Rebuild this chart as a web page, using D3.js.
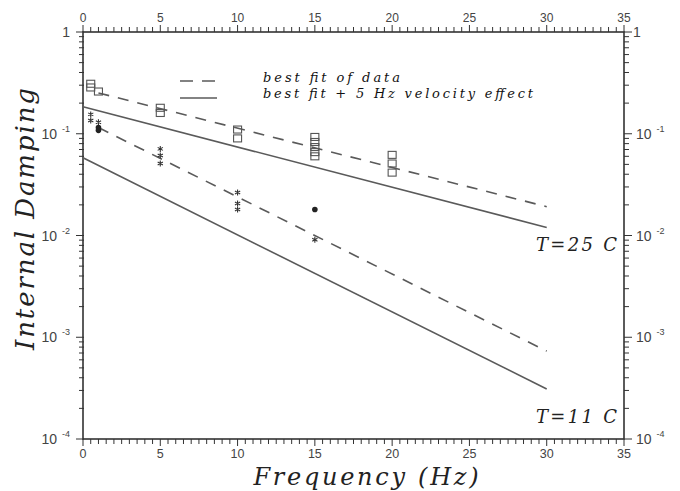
<!DOCTYPE html>
<html>
<head>
<meta charset="utf-8">
<script src="https://cdn.jsdelivr.net/npm/d3@7"></script>
<style>
  body { margin: 0; background: #fff; }
  svg { display: block; }
</style>
</head>
<body>
<svg id="chart" width="680" height="491"></svg>
<script>
// frequency (Hz), damping
const squares25 = [[0.5, 0.31], [0.5, 0.285], [1, 0.26], [5, 0.18], [5, 0.16], [10, 0.11], [10, 0.09],
  [15, 0.093], [15, 0.083], [15, 0.074], [15, 0.066], [15, 0.06], [20, 0.062], [20, 0.051], [20, 0.0415]]
const stars11 = [[0.5, 0.155], [0.5, 0.135], [1, 0.13], [5, 0.071], [5, 0.061], [5, 0.051],
  [10, 0.0264], [10, 0.0206], [10, 0.018], [15, 0.0091]]
const dots11 = [[1, 0.115], [1, 0.108], [15, 0.018]]

// fitted lines (endpoints)
const fit25 = [[1, 0.252], [30, 0.0192]]
const vel25 = [[0, 0.184], [30, 0.012]]
const fit11 = [[1, 0.115], [30, 0.00073]]
const vel11 = [[0, 0.058], [30, 0.00031]]

const xMajor = [0, 5, 10, 15, 20, 25, 30, 35]
const yDecades = [1, 0.1, 0.01, 0.001, 0.0001]
const yExp = ["", "-1", "-2", "-3", "-4"]

const legendItems = ["best fit of data", "best fit + 5 Hz velocity effect"]

const svg = d3.select("#chart")
const x = d3.scaleLinear().domain([0, 35]).range([83, 624])
const y = d3.scaleLog().domain([1e-4, 1]).range([439, 32])

const ink = "#333"
const serif = "'DejaVu Serif', 'Liberation Serif', serif"
const sans = "'Liberation Sans', 'DejaVu Sans', sans-serif"

// minor ticks
const xMinor = d3.range(0, 35.01, 0.5).filter(v => v % 5 !== 0)
const yMinor = []
yDecades.slice(1).forEach(d => { for (let k = 2; k <= 9; k++) yMinor.push(d * k) })

const ticks = svg.append("g").attr("stroke", ink).attr("stroke-width", 1)

// top & bottom
ticks.selectAll(".xt").data(xMinor).join("line")
  .attr("x1", d => x(d)).attr("x2", d => x(d)).attr("y1", 32).attr("y2", 27)
ticks.selectAll(".xb").data(xMinor).join("line")
  .attr("x1", d => x(d)).attr("x2", d => x(d)).attr("y1", 439).attr("y2", 444)
ticks.selectAll(".xtM").data(xMajor).join("line")
  .attr("x1", d => x(d)).attr("x2", d => x(d)).attr("y1", 32).attr("y2", 25)
ticks.selectAll(".xbM").data(xMajor).join("line")
  .attr("x1", d => x(d)).attr("x2", d => x(d)).attr("y1", 439).attr("y2", 446)

// left & right
ticks.selectAll(".yl").data(yMinor).join("line")
  .attr("x1", 79).attr("x2", 84).attr("y1", d => y(d)).attr("y2", d => y(d))
ticks.selectAll(".yr").data(yMinor).join("line")
  .attr("x1", 624).attr("x2", 629).attr("y1", d => y(d)).attr("y2", d => y(d))
ticks.selectAll(".ylM").data(yDecades).join("line")
  .attr("x1", 76).attr("x2", 84).attr("y1", d => y(d)).attr("y2", d => y(d))
ticks.selectAll(".yrM").data(yDecades).join("line")
  .attr("x1", 624).attr("x2", 632).attr("y1", d => y(d)).attr("y2", d => y(d))

// frame
svg.append("rect")
  .attr("x", x(0)).attr("y", y(1))
  .attr("width", x(35) - x(0)).attr("height", y(1e-4) - y(1))
  .attr("fill", "none").attr("stroke", ink).attr("stroke-width", 1.6)

// x tick labels
const xl = svg.append("g").attr("font-family", sans).attr("fill", "#444").attr("text-anchor", "middle")
xl.selectAll(".top").data(xMajor).join("text")
  .attr("x", d => x(d)).attr("y", 22).attr("font-size", 12).text(d => d)
xl.selectAll(".bot").data(xMajor).join("text")
  .attr("x", d => x(d)).attr("y", 458).attr("font-size", 12.5).text(d => d)

// y tick labels
function decadeLabel(sel, xpos, anchor) {
  sel.each(function (d, i) {
    const t = d3.select(this)
      .attr("x", xpos).attr("y", y(d) + 5)
      .attr("text-anchor", anchor)
    if (i === 0) {
      t.text("1")
    } else {
      t.append("tspan").attr("font-size", 14).text("10")
      t.append("tspan").attr("font-size", 9).attr("dx", 5).attr("dy", -7).text(yExp[i])
    }
  })
}
const yl = svg.append("g").attr("font-family", sans).attr("fill", "#444").attr("font-size", 14)
yl.selectAll(".l").data(yDecades).join("text").call(decadeLabel, 70, "end")
yl.selectAll(".r").data(yDecades).join("text")
  .each(function (d, i) { if (i === 0) d3.select(this).attr("dx", -3) })
  .call(decadeLabel, 636, "start")

// fit lines
const line = d3.line().x(d => x(d[0])).y(d => y(d[1]))
const lines = svg.append("g").attr("fill", "none").attr("stroke", "#5a5a5a").attr("stroke-width", 1.6)
lines.append("path").attr("d", line(fit25)).attr("stroke-dasharray", "11,9")
lines.append("path").attr("d", line(fit11)).attr("stroke-dasharray", "11,9")
lines.append("path").attr("d", line(vel25))
lines.append("path").attr("d", line(vel11))

// markers
svg.append("g").selectAll("rect").data(squares25).join("rect")
  .attr("x", d => x(d[0]) - 4).attr("y", d => y(d[1]) - 3.5)
  .attr("width", 8).attr("height", 7)
  .attr("fill", "none").attr("stroke", "#555").attr("stroke-width", 1.1)

const star = (cx, cy, r) => {
  const a = r * 0.87, b = r * 0.5
  return `M${cx},${cy - r}L${cx},${cy + r}M${cx - a},${cy - b}L${cx + a},${cy + b}M${cx - a},${cy + b}L${cx + a},${cy - b}`
}
svg.append("g").selectAll("path").data(stars11).join("path")
  .attr("d", d => star(x(d[0]), y(d[1]), 3))
  .attr("stroke", "#333").attr("stroke-width", 1.1).attr("fill", "none")

svg.append("g").selectAll("circle").data(dots11).join("circle")
  .attr("cx", d => x(d[0])).attr("cy", d => y(d[1])).attr("r", 2.8)
  .attr("fill", "#222")

// legend
const lg = svg.append("g")
lg.append("line").attr("x1", 180).attr("x2", 216).attr("y1", 81).attr("y2", 81)
  .attr("stroke", "#5a5a5a").attr("stroke-width", 1.6).attr("stroke-dasharray", "13,9")
lg.append("line").attr("x1", 180).attr("x2", 217).attr("y1", 98).attr("y2", 98)
  .attr("stroke", "#5a5a5a").attr("stroke-width", 1.6)
lg.selectAll("text").data(legendItems).join("text")
  .attr("x", 263).attr("y", (d, i) => 82 + i * 16)
  .attr("font-family", serif).attr("font-style", "italic").attr("font-size", 13)
  .attr("fill", "#111")
  .attr("textLength", (d, i) => i === 0 ? 137 : 270).attr("lengthAdjust", "spacing")
  .text(d => d)

// temperature labels
const tl = svg.append("g").attr("font-family", serif).attr("font-style", "italic")
  .attr("font-size", 18).attr("fill", "#222")
tl.append("text").attr("x", 536).attr("y", 251).attr("textLength", 81).attr("lengthAdjust", "spacing").text("T=25  C")
tl.append("text").attr("x", 536).attr("y", 423).attr("textLength", 81).attr("lengthAdjust", "spacing").text("T=11  C")

// axis titles
svg.append("text")
  .attr("x", 366).attr("y", 485).attr("text-anchor", "middle")
  .attr("font-family", serif).attr("font-style", "italic").attr("font-size", 24)
  .attr("fill", "#222").attr("textLength", 225).attr("lengthAdjust", "spacing")
  .text("Frequency (Hz)")

svg.append("text")
  .attr("transform", "translate(34,219) rotate(-90)")
  .attr("text-anchor", "middle")
  .attr("font-family", serif).attr("font-style", "italic").attr("font-size", 26)
  .attr("fill", "#222").attr("textLength", 262).attr("lengthAdjust", "spacing")
  .text("Internal Damping")
</script>
</body>
</html>
